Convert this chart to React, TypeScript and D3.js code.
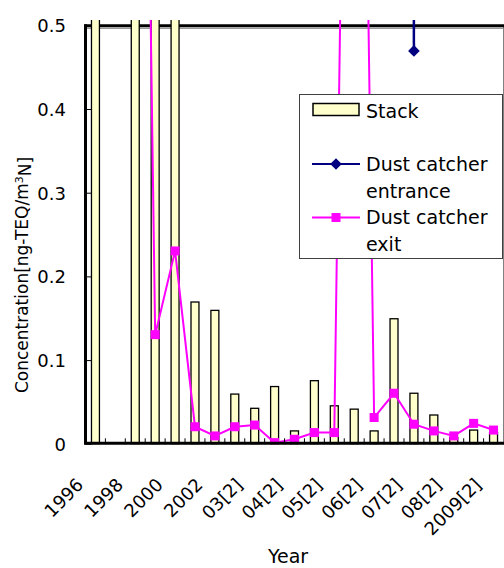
import React from "react";
import * as d3 from "d3";

// Sampling periods (semiannual from 2003 on)
const categories = [
  "1996", "1997", "1998", "1999", "2000", "2001", "2002",
  "03[1]", "03[2]", "04[1]", "04[2]", "05[1]", "05[2]",
  "06[1]", "06[2]", "07[1]", "07[2]", "08[1]", "08[2]",
  "2009[1]", "2009[2]",
];

// Stack concentration (ng-TEQ/m3N)
const stack: (number | null)[] = [
  1.4, null, 2.1, 0.94, 0.69, 0.17, 0.16, 0.06, 0.043, 0.069, 0.016,
  0.076, 0.046, 0.042, 0.016, 0.15, 0.061, 0.035, 0.008, 0.017, 0.014,
];

// Dust catcher entrance
const entrance: (number | null)[] = [
  null, null, null, null, null, null, null, null, null, null, null,
  null, null, null, null, 9.6, 0.47, null, null, null, null,
];

// Dust catcher exit
const exitVals: (number | null)[] = [
  null, null, 1.8, 0.131, 0.231, 0.021, 0.01, 0.021, 0.023, 0.002, 0.006,
  0.014, 0.014, 1.7, 0.032, 0.061, 0.024, 0.016, 0.01, 0.025, 0.017,
];

const yTicks = [0, 0.1, 0.2, 0.3, 0.4, 0.5];

const FONT = "'DejaVu Sans', 'Noto Sans CJK JP', sans-serif";
const W = 504;
const H = 568;
const L = 85.5;
const R = 503.5;
const T = 25.8;
const B = 444.3;

const BAR_FILL = "#FFFFCC";
const NAVY = "#000080";
const MAGENTA = "#FF00FF";

export default function App() {
  const x = d3.scaleBand<string>().domain(categories).range([L, R]).padding(0);
  const y = d3.scaleLinear().domain([0, 0.5]).range([B, T]);
  const bw = x.bandwidth() * 0.4;
  const cx = (i: number) => (x(categories[i]) as number) + x.bandwidth() / 2;

  const line = d3
    .line<number | null>()
    .defined((d) => d !== null)
    .x((_, i) => cx(i))
    .y((d) => y(d as number));

  const boundaries = d3.range(1, categories.length);

  const square = (px: number, py: number, key: string | number) => (
    <rect key={key} x={px - 4.5} y={py - 4.5} width={9} height={9} fill={MAGENTA} />
  );
  const diamond = (px: number, py: number, key: string | number) => (
    <path key={key} d={`M${px},${py - 5.8}L${px + 5.8},${py}L${px},${py + 5.8}L${px - 5.8},${py}Z`} fill={NAVY} />
  );

  return (
    <svg
      width={W}
      height={H}
      style={{ position: "absolute", left: 0, top: 0, display: "block", background: "#fff" }}
      fontFamily={FONT}
    >
      <defs>
        <clipPath id="plot-clip">
          <rect x={L} y={20} width={R - L} height={B - 20} />
        </clipPath>
      </defs>

      {/* plot frame */}
      <line x1={L} x2={R} y1={T + 2.5} y2={T + 2.5} stroke="#808080" strokeWidth={1} />
      <line x1={R} x2={R} y1={T} y2={B} stroke="#808080" strokeWidth={1} />

      {/* top boundary at 0.5 */}
      <line x1={L - 1} x2={W} y1={T} y2={T} stroke="#000" strokeWidth={3} />

      <g clipPath="url(#plot-clip)">
        {stack.map((v, i) =>
          v === null ? null : (
            <rect
              key={i}
              x={cx(i) - bw / 2}
              y={y(v)}
              width={bw}
              height={B - y(v)}
              fill={BAR_FILL}
              stroke="#000"
              strokeWidth={1.3}
            />
          )
        )}
        <path d={line(exitVals) || ""} fill="none" stroke={MAGENTA} strokeWidth={2} />
        <path d={line(entrance) || ""} fill="none" stroke={NAVY} strokeWidth={2.5} />
        {exitVals.map((v, i) => (v === null ? null : square(cx(i), y(v), "s" + i)))}
        {entrance.map((v, i) => (v === null ? null : diamond(cx(i), y(v), "d" + i)))}
      </g>

      {/* category ticks */}
      {boundaries.map((b) => {
        const bx = L + b * x.bandwidth();
        return <line key={b} x1={bx} x2={bx} y1={B} y2={B - 6} stroke="#000" strokeWidth={1} />;
      })}

      {/* value ticks */}
      {yTicks.map((t) => (
        <line key={t} x1={L} x2={L + 6} y1={y(t)} y2={y(t)} stroke="#000" strokeWidth={1} />
      ))}

      {/* axes */}
      <line x1={L - 1.5} x2={W} y1={B - 1} y2={B - 1} stroke="#000" strokeWidth={3} />
      <line x1={L} x2={L} y1={T - 1.5} y2={B} stroke="#000" strokeWidth={3} />

      {/* value labels */}
      {yTicks.map((t) => (
        <text key={t} x={66} y={y(t)} dy="0.36em" textAnchor="end" fontSize={18} fill="#000">
          {t === 0 ? "0" : d3.format(".1f")(t)}
        </text>
      ))}

      {/* category labels, every second period */}
      {categories.map((c, i) =>
        i % 2 === 0 ? (
          <text
            key={c}
            transform={`translate(${cx(i) - 11},${486}) rotate(-45)`}
            textAnchor="end"
            fontSize={18}
            fill="#000"
          >
            {c}
          </text>
        ) : null
      )}

      <text x={288} y={563} textAnchor="middle" fontSize={19} fill="#000">
        Year
      </text>

      <text transform="translate(28,275) rotate(-90)" textAnchor="middle" fontSize={17} fill="#000">
        Concentration[ng-TEQ/m
        <tspan dy="-0.45em" fontSize={11}>3</tspan>
        <tspan dy="0.45em">N]</tspan>
      </text>

      {/* legend */}
      <g>
        <rect x={299.5} y={94.5} width={203} height={164} fill="#fff" stroke="#404040" strokeWidth={1} />
        <rect x={313} y={103.5} width={46} height={12} fill={BAR_FILL} stroke="#000" strokeWidth={1.5} />
        <text x={366} y={117.5} fontSize={19} fill="#000">Stack</text>

        <line x1={312} x2={360} y1={164} y2={164} stroke={NAVY} strokeWidth={2} />
        {diamond(336, 164, "ld")}
        <text x={366} y={171} fontSize={19} fill="#000">Dust catcher</text>
        <text x={366} y={197.5} fontSize={19} fill="#000">entrance</text>

        <line x1={312} x2={360} y1={217.5} y2={217.5} stroke={MAGENTA} strokeWidth={2} />
        {square(336, 217.5, "ls")}
        <text x={366} y={224} fontSize={19} fill="#000">Dust catcher</text>
        <text x={366} y={250.5} fontSize={19} fill="#000">exit</text>
      </g>
    </svg>
  );
}
